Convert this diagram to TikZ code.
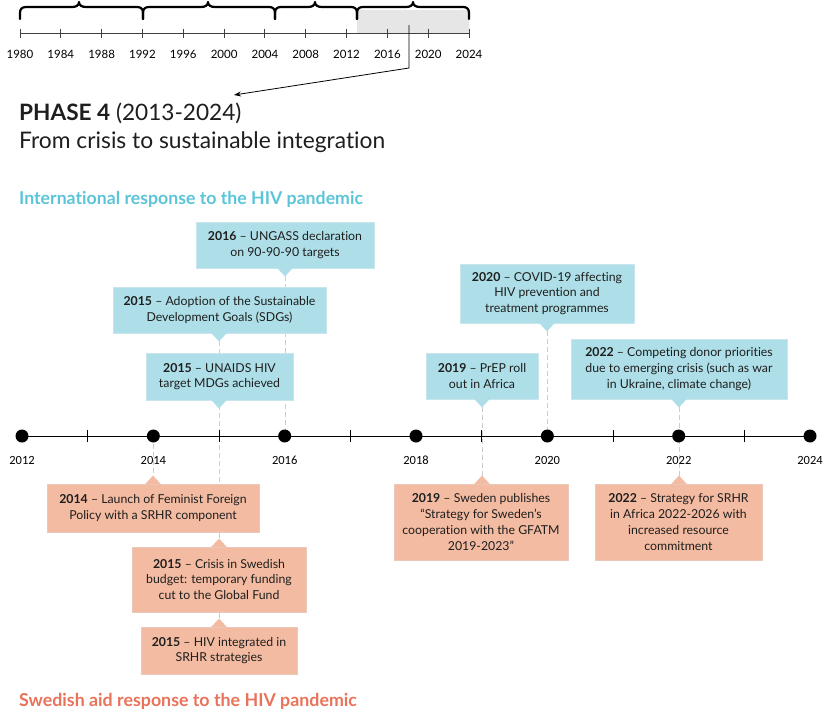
\documentclass[tikz,border=0pt]{standalone}
\usepackage{fontspec}
\setmainfont{Lato}[Ligatures={TeX,NoCommon}]
\newfontfamily\yearfont{Carlito}
\usetikzlibrary{arrows.meta}
\definecolor{blu}{HTML}{AEDFE8}
\definecolor{blb}{HTML}{C9E6EC}
\definecolor{sal}{HTML}{F3BBA1}
\definecolor{salb}{HTML}{EBC9BA}
\definecolor{inttxt}{HTML}{5BC4D8}
\definecolor{swetxt}{HTML}{E8735A}
\definecolor{dashg}{HTML}{CCCCCC}
\definecolor{txt}{HTML}{1E1E1E}
\definecolor{shadegray}{HTML}{E6E6E7}
\tikzset{
  bbox/.style={fill=blu, draw=blb, line width=0.8pt, inner sep=0pt, align=center, text=txt,
    font=\fontsize{12.3}{15.7}\selectfont},
  sbox/.style={fill=sal, draw=salb, line width=0.8pt, inner sep=0pt, align=center, text=txt,
    font=\fontsize{12.3}{15.7}\selectfont},
  dline/.style={draw=dashg, line width=1pt, dash pattern=on 5pt off 3pt},
  brace/.style={line width=2.2pt, line cap=round, line join=round},
  yr/.style={font=\yearfont\fontsize{12.5}{14}\selectfont, anchor=base},
  tyr/.style={font=\fontsize{11.5}{13}\selectfont, anchor=base},
  dot/.style={circle, fill=black, minimum size=13pt, inner sep=0pt}
}
\newcommand{\bracepath}[3]{%
  \draw[brace] (#1,19) -- (#1,13) .. controls (#1,9) and (#1+2,7) .. (#1+6,7)
    -- (#3-7,7) .. controls (#3-3,7) and (#3,5.5) .. (#3,2)
    .. controls (#3,5.5) and (#3+3,7) .. (#3+7,7)
    -- (#2-6,7) .. controls (#2-2,7) and (#2,9) .. (#2,13) -- (#2,19);}
\begin{document}
\begin{tikzpicture}[x=1pt,y=-1pt]
\useasboundingbox (0,0) rectangle (828,713);
% ---------- top overview timeline
\fill[shadegray] (357,10) rectangle (469,33);
\draw[line width=0.9pt, draw=black!75] (20,33) -- (469,33);
\foreach \i/\yy in {0/1980,1/1984,2/1988,3/1992,4/1996,5/2000,6/2004,7/2008,8/2012,9/2016,10/2020,11/2024}{
  \draw[line width=0.9pt, draw=black!75] ({20+\i*40.82},28.5) -- ({20+\i*40.82},37.5);
  \node[tyr] at ({20+\i*40.82},58) {\yy};
}
\bracepath{20}{143}{79}
\bracepath{143}{275}{208}
\bracepath{275}{357}{315}
\bracepath{357}{469}{413}
\coordinate (pstart) at (409,25);
\coordinate (pbend) at (409,68);
\node[anchor=base west, inner sep=0pt, font=\fontsize{22.6}{26}\selectfont, text=txt] (phase) at (19,120)
  {\textbf{PHASE 4} (2013-2024)};
\node[anchor=base west, inner sep=0pt, font=\fontsize{22.8}{26}\selectfont, text=txt] (sub) at (19,148)
  {From crisis to sustainable integration};
\coordinate (ptip) at (234,95);
\draw[line width=0.8pt, -{Stealth[length=7pt,width=5pt]}] (pstart) -- (pbend) -- (ptip);
% ---------- headings
\node[anchor=base west, inner sep=0pt, font=\fontsize{17.7}{20}\selectfont\bfseries, text=inttxt] (inth) at (19,204)
  {International response to the HIV pandemic};
\node[anchor=base west, inner sep=0pt, font=\fontsize{17.8}{20}\selectfont\bfseries, text=swetxt] (sweh) at (19,706)
  {Swedish aid response to the HIV pandemic};
% ---------- main axis coordinates
\foreach \k in {0,...,12}{
  \coordinate (y\k) at ({22+\k*65.67},436);
}
% dashed guide lines (behind)
\coordinate (d16a) at (285,268);
\coordinate (d15a) at (219,333);
\coordinate (d20a) at (547,323);
\coordinate (d19a) at (482,399);
\coordinate (d22a) at (679,399);
\coordinate (d14b) at (153,484);
\coordinate (d15b) at (219,627);
\coordinate (d19b) at (482,484);
\coordinate (d22b) at (679,484);
\draw[dline] (d16a) -- (285,436);
\draw[dline] (d15a) -- (d15b);
\draw[dline] (d20a) -- (547,436);
\draw[dline] (d19a) -- (d19b);
\draw[dline] (d22a) -- (d22b);
\draw[dline] (153,436) -- (d14b);
% axis
\draw[line width=1pt] (y0) -- (y12);
\foreach \k in {1,3,5,7,9,11}{
  \draw[line width=0.8pt] ([yshift=-6pt]y\k) -- ([yshift=6pt]y\k);
}
\foreach \k/\yy in {0/2012,2/2014,4/2016,6/2018,8/2020,10/2022,12/2024}{
  \node[dot] (dot\yy) at (y\k) {};
  \node[yr] at ([yshift=-28pt]y\k) {\yy};
}
% ---------- blue boxes
\node[bbox, minimum width=178pt, minimum height=46pt] (b1) at (285,245)
  {\textbf{2016} – UNGASS declaration\\on 90-90-90 targets};
\node[bbox, minimum width=213pt, minimum height=46pt] (b2) at (219.5,310)
  {\textbf{2015} – Adoption of the Sustainable\\Development Goals (SDGs)};
\node[bbox, minimum width=147pt, minimum height=47pt] (b3) at (219.5,376.5)
  {\textbf{2015} – UNAIDS HIV\\target MDGs achieved};
\node[bbox, minimum width=174pt, minimum height=59pt] (b4) at (547,293.5)
  {\textbf{2020} – COVID-19 affecting\\HIV prevention and\\treatment programmes};
\node[bbox, minimum width=112pt, minimum height=46pt] (b5) at (482,376)
  {\textbf{2019} – PrEP roll\\out in Africa};
\node[bbox, minimum width=216pt, minimum height=60pt] (b6) at (679,369)
  {\textbf{2022} – Competing donor priorities\\due to emerging crisis (such as war\\in Ukraine, climate change)};
\foreach \b/\x in {b1/285,b2/219,b3/219,b4/547,b5/482,b6/679}{
  \fill[blu] ([xshift=-8pt,yshift=0.6pt]\x,0|-\b.south) -- ([yshift=-8pt]\x,0|-\b.south) -- ([xshift=8pt,yshift=0.6pt]\x,0|-\b.south) -- cycle;
}
% ---------- salmon boxes
\node[sbox, minimum width=212pt, minimum height=48pt] (s1) at (153,508)
  {\textbf{2014} – Launch of Feminist Foreign\\Policy with a SRHR component};
\node[sbox, minimum width=174pt, minimum height=65pt] (s2) at (219,579.5)
  {\textbf{2015} – Crisis in Swedish\\budget: temporary funding\\cut to the Global Fund};
\node[sbox, minimum width=156pt, minimum height=47pt] (s3) at (219,650.5)
  {\textbf{2015} – HIV integrated in\\SRHR strategies};
\node[sbox, minimum width=174pt, minimum height=76pt] (s4) at (481,522)
  {\textbf{2019} – Sweden publishes\\“Strategy for Sweden’s\\cooperation with the GFATM\\2019-2023”};
\node[sbox, minimum width=167pt, minimum height=76pt] (s5) at (678.5,522)
  {\textbf{2022} – Strategy for SRHR\\in Africa 2022-2026 with\\increased resource\\commitment};
\foreach \b/\x in {s1/153,s2/219,s3/219,s4/482,s5/679}{
  \fill[sal] ([xshift=-8pt,yshift=-0.6pt]\x,0|-\b.north) -- ([yshift=8pt]\x,0|-\b.north) -- ([xshift=8pt,yshift=-0.6pt]\x,0|-\b.north) -- cycle;
}
\end{tikzpicture}
\end{document}
